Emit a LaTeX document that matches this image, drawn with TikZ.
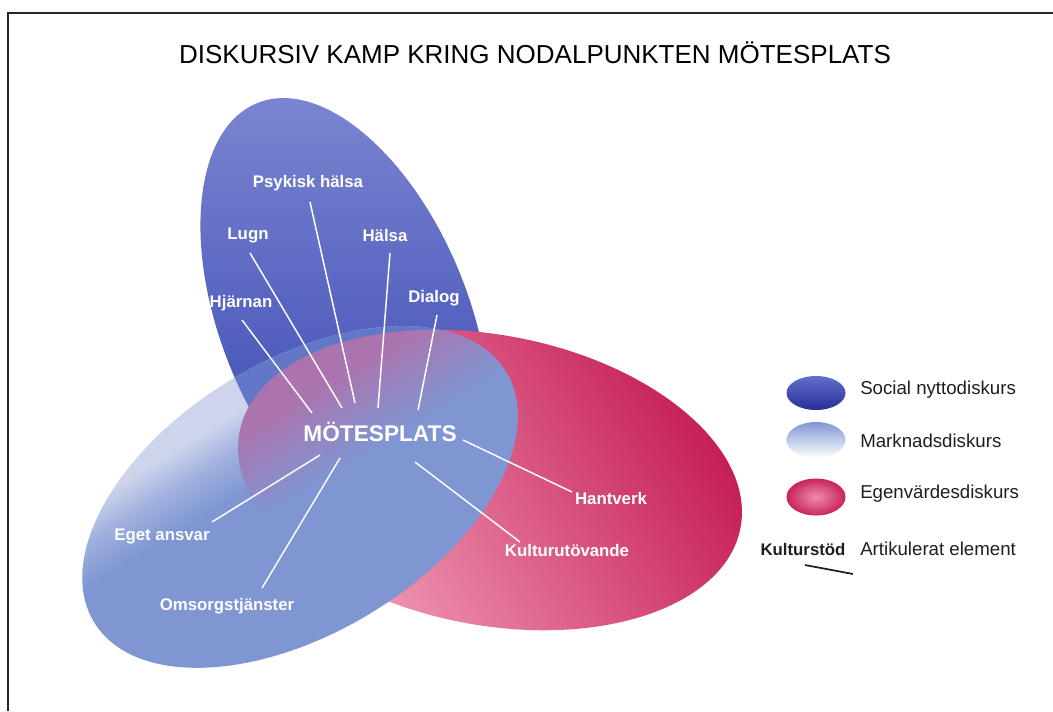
\documentclass[tikz,border=0pt]{standalone}
\usepackage{fontspec}
\setmainfont{Liberation Sans}
\definecolor{dkA}{RGB}{122,132,208}
\definecolor{dkB}{RGB}{50,66,176}
\definecolor{dkO}{RGB}{98,120,198}
\definecolor{lbA}{RGB}{127,150,210}
\definecolor{lbM}{RGB}{160,176,222}
\definecolor{lbP}{RGB}{205,212,236}
\definecolor{pkL}{RGB}{246,170,194}
\definecolor{pkM}{RGB}{230,84,132}
\definecolor{pkD}{RGB}{196,26,84}
\definecolor{pkT}{RGB}{172,116,174}
\definecolor{pkU}{RGB}{148,134,194}
\definecolor{txt}{RGB}{30,30,30}
\pgfdeclareverticalshading{lbsh}{100bp}{color(0bp)=(lbA); color(54bp)=(lbA); color(58.5bp)=(lbM); color(62.5bp)=(lbP); color(100bp)=(lbP)}
\pgfdeclareverticalshading{dksh}{100bp}{color(0bp)=(lbA); color(50bp)=(lbA); color(56bp)=(dkO); color(100bp)=(dkO)}
\pgfdeclareverticalshading{pksh}{100bp}{color(0bp)=(lbA); color(50bp)=(lbA); color(55bp)=(pkU); color(60bp)=(pkT); color(100bp)=(pkT)}
\begin{document}
\begin{tikzpicture}[x=0.75pt,y=-0.75pt,
  lab/.style={text=white,font=\bfseries\fontsize{12.6}{14}\selectfont,inner sep=0pt},
  hub/.style={text=white,font=\bfseries\fontsize{17}{19}\selectfont,inner sep=0pt},
  leg/.style={text=txt,font=\fontsize{14}{16}\selectfont,anchor=west,inner sep=0pt},
  conn/.style={white,line width=1.1pt},
  frame/.style={line width=1.5pt,draw=black!85}]
\useasboundingbox (0,0) rectangle (1053,711);
\draw[frame] (1053,12.5) -- (7.5,12.5) -- (7.5,711);
\node[font=\fontsize{19.5}{22}\selectfont,text=black] (title) at (535,53) {DISKURSIV KAMP KRING NODALPUNKTEN MÖTESPLATS};
% dark ellipse (social)
\shade[top color=dkA, middle color=dkB, bottom color=dkB, shift={(345,320)}, rotate=22] (0,0) ellipse [x radius=124, y radius=234];
% pink ellipse (egenvarde)
\shade[top color=pkL, middle color=pkM, bottom color=pkD, shading angle=120, shift={(490,480)}, rotate=-10.8] (0,0) ellipse [x radius=255, y radius=145];
% light ellipse (marknad)
\shade[shading=lbsh, shading angle=31.3, shift={(300,497)}, rotate=31.3] (0,0) ellipse [x radius=241, y radius=136];
% dark seen through light
\begin{scope}
  \clip[shift={(345,320)}, rotate=22] (0,0) ellipse [x radius=124, y radius=234];
  \shade[shading=dksh, shading angle=31.3, shift={(300,497)}, rotate=31.3] (0,0) ellipse [x radius=241, y radius=136];
\end{scope}
% pink seen through light
\begin{scope}
  \clip[shift={(490,480)}, rotate=-10.8] (0,0) ellipse [x radius=255, y radius=145];
  \shade[shading=pksh, shading angle=31.3, shift={(300,497)}, rotate=31.3] (0,0) ellipse [x radius=241, y radius=136];
\end{scope}
% connectors
\coordinate (hj1) at (242,320); \coordinate (hj2) at (312,413);
\coordinate (lu1) at (250,253); \coordinate (lu2) at (342,408);
\coordinate (ps1) at (310,202); \coordinate (ps2) at (355,403);
\coordinate (ha1) at (390,253); \coordinate (ha2) at (378,408);
\coordinate (di1) at (437,315); \coordinate (di2) at (418,410);
\coordinate (hv1) at (463,440); \coordinate (hv2) at (572,492);
\coordinate (ku1) at (415,462); \coordinate (ku2) at (520,542);
\coordinate (eg1) at (320,455); \coordinate (eg2) at (212,522);
\coordinate (om1) at (340,458); \coordinate (om2) at (262,588);
\foreach \a in {hj,lu,ps,ha,di,hv,ku,eg,om} {\draw[conn] (\a1) -- (\a2);}
% labels
\node[hub] (mote) at (380,432) {MÖTESPLATS};
\node[lab] (psyk) at (308,183) {Psykisk hälsa};
\node[lab] (lugn) at (248,235) {Lugn};
\node[lab] (halsa) at (385,235) {Hälsa};
\node[lab] (hjar) at (241,303) {Hjärnan};
\node[lab] (dial) at (434,298) {Dialog};
\node[lab] (hant) at (611,498) {Hantverk};
\node[lab] (kult) at (567,550) {Kulturutövande};
\node[lab] (eget) at (162,536) {Eget ansvar};
\node[lab] (omso) at (227,606) {Omsorgstjänster};
% legend
\shade[top color={rgb,255:red,98;green,110;blue,206}, bottom color={rgb,255:red,36;green,48;blue,150}] (816,393) ellipse [x radius=29.5, y radius=17];
\shade[top color=lbA, middle color=lbA!85!white, bottom color=white] (816,440) ellipse [x radius=29.5, y radius=18];
\shade[inner color={rgb,255:red,238;green,140;blue,172}, outer color={rgb,255:red,200;green,36;blue,92}] (816,497) ellipse [x radius=29.5, y radius=18.5];
\node[leg] (l1) at (860,390) {Social nyttodiskurs};
\node[leg] (l2) at (860,441) {Marknadsdiskurs};
\node[leg] (l3) at (860,494) {Egenvärdesdiskurs};
\node[text=txt,font=\bfseries\fontsize{12.6}{14}\selectfont,inner sep=0pt] (kst) at (803,549) {Kulturstöd};
\node[leg] (l4) at (860,549) {Artikulerat element};
\coordinate (ls1) at (805,565); \coordinate (ls2) at (853,574);
\draw[txt,line width=1.3pt] (ls1) -- (ls2);
\end{tikzpicture}
\end{document}
